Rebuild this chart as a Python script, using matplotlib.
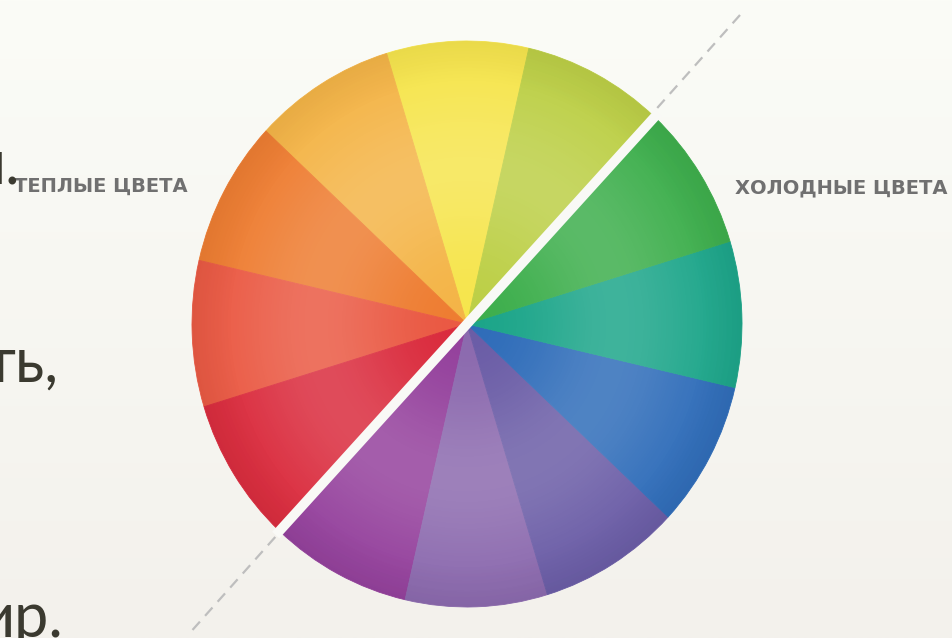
import numpy as np
import matplotlib
matplotlib.use('Agg')
import matplotlib.pyplot as plt
from matplotlib.patches import Circle

W, H = 953, 638

# ---- data ----
segment_names = ['жёлтый', 'жёлто-оранжевый', 'оранжевый', 'красно-оранжевый',
                 'красный', 'красно-фиолетовый', 'фиолетовый', 'сине-фиолетовый',
                 'синий', 'сине-зелёный', 'зелёный', 'жёлто-зелёный']
segment_values = [1, 1, 1, 1, 1, 1, 1, 1, 1, 1, 1, 1]
segment_colors = ['#F6E54C', '#F4B446', '#EE7C30', '#EA5842',
                  '#DA2A3C', '#94409C', '#8B69AE', '#6A5CA6',
                  '#2E6CB9', '#1BA589', '#3CAE4B', '#BCCF45']
warm_label = 'ТЕПЛЫЕ ЦВЕТА'
cold_label = 'ХОЛОДНЫЕ ЦВЕТА'
slide_fragments = ['ы.', 'ть,', 'ир.']

fig = plt.figure(figsize=(W / 100, H / 100), dpi=100)

# background
bg = fig.add_axes([0, 0, 1, 1])
bg.axis('off')
g = np.linspace(0, 1, 256)[:, None, None]
top = np.array([251, 252, 247]) / 255
bot = np.array([243, 241, 236]) / 255
img = top * (1 - g) + bot * g
bg.imshow(img, extent=[0, W, H, 0], aspect='auto', zorder=0)
bg.set_xlim(0, W)
bg.set_ylim(H, 0)

# dashed divider
bg.plot([740, 188], [15, 635], color='#BEBEBE', lw=1.6, dashes=(5, 3.5), zorder=1)

# wheel
cx, cy, rx, ry = 467, 324, 275, 283
pa = fig.add_axes([(cx - rx) / W, (H - (cy + ry)) / H, 2 * rx / W, 2 * ry / H])
pa.patch.set_alpha(0)
start = 77
wedges, _ = pa.pie(segment_values, colors=segment_colors, startangle=start,
                   counterclock=True, radius=1, wedgeprops=dict(linewidth=0.6))
for w in wedges:
    w.set_edgecolor(w.get_facecolor())

n = 400
xs = np.linspace(-1, 1, n)
X, Y = np.meshgrid(xs, xs)
R = np.hypot(X, Y)
light = np.ones((n, n, 4))
light[..., 3] = 0.16 * np.exp(-((R - 0.55) / 0.30) ** 2)
im1 = pa.imshow(light, extent=[-1, 1, -1, 1], origin='lower', aspect='auto',
                zorder=3, interpolation='bilinear')
dark = np.zeros((n, n, 4))
dark[..., 3] = 0.05 * np.clip((R - 0.85) / 0.15, 0, 1)
im2 = pa.imshow(dark, extent=[-1, 1, -1, 1], origin='lower', aspect='auto',
                zorder=3, interpolation='bilinear')
for im in (im1, im2):
    im.set_clip_path(Circle((0, 0), 1, transform=pa.transData))

a = np.deg2rad(start - 30)
pa.plot([1.02 * np.cos(a), -1.02 * np.cos(a)], [1.02 * np.sin(a), -1.02 * np.sin(a)],
        color='#F9F9F6', lw=7, solid_capstyle='butt', zorder=4, clip_on=False)
pa.set_aspect('auto')
pa.set_xlim(-1, 1)
pa.set_ylim(-1, 1)
pa.axis('off')

# labels
lab = dict(fontsize=14, fontweight='heavy', color='#707070', ha='left',
           va='center', family='DejaVu Sans', zorder=5)
bg.text(14, 186, warm_label, **lab)
bg.text(735, 188, cold_label, **lab)

# cropped slide text fragments
frag_font = dict(fontsize=44, color='#3B3A30', family='Lato', ha='right', va='baseline', zorder=5)
bg.text(20, 183, slide_fragments[0], **frag_font)
bg.text(58, 382, slide_fragments[1], **frag_font)
bg.text(64, 637, slide_fragments[2], **frag_font)

fig.savefig('out.png', dpi=100)
